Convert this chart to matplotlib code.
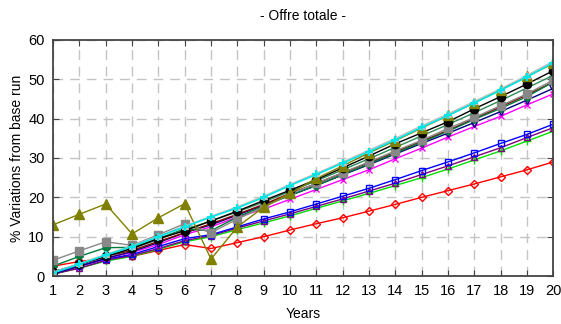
import numpy as np
import matplotlib
matplotlib.use("Agg")
import matplotlib.pyplot as plt

plt.rcParams["font.family"] = ["Liberation Sans", "DejaVu Sans"]

years = list(range(1, 21))

red = [2.5, 3.7, 4.5, 5.0, 6.5, 8.0, 7.0, 8.5, 10.0, 11.7, 13.3, 14.8, 16.5, 18.2, 20.0, 21.7, 23.4, 25.2, 27.0, 29.0]
green = [0.5, 2.0, 3.8, 5.0, 6.8, 8.7, 10.0, 11.8, 13.5, 15.3, 17.2, 19.1, 21.0, 23.0, 25.0, 27.2, 29.5, 31.8, 34.3, 36.8]
purple = [0.5, 2.0, 4.0, 5.2, 7.0, 9.0, 10.3, 12.2, 14.0, 15.8, 17.7, 19.6, 21.6, 23.6, 25.8, 28.0, 30.3, 32.6, 35.2, 37.7]
blue = [0.8, 2.5, 4.3, 5.5, 7.5, 9.5, 10.5, 12.5, 14.5, 16.3, 18.3, 20.3, 22.3, 24.5, 26.8, 29.0, 31.3, 33.7, 36.0, 38.6]
magenta = [0.5, 2.5, 4.5, 6.0, 8.0, 10.5, 12.5, 15.0, 17.0, 19.5, 22.0, 24.5, 27.0, 29.8, 32.5, 35.3, 38.0, 40.6, 43.5, 46.3]
navy = [0.5, 2.5, 4.5, 6.2, 8.5, 11.0, 13.0, 15.5, 18.0, 20.5, 23.0, 25.7, 28.3, 31.0, 33.7, 36.3, 39.0, 41.8, 44.7, 47.7]
darkred = [1.0, 3.0, 5.0, 6.5, 8.8, 11.0, 13.3, 15.7, 18.2, 21.0, 23.5, 26.2, 28.8, 31.5, 34.3, 37.0, 40.0, 43.0, 46.0, 49.3]
dkgreen = [2.5, 5.0, 7.2, 7.3, 9.5, 12.0, 11.5, 15.0, 17.8, 20.5, 23.0, 25.8, 28.5, 31.2, 34.0, 36.8, 39.8, 42.6, 45.6, 49.3]
gray = [4.0, 6.4, 8.7, 7.8, 10.5, 13.3, 11.0, 14.5, 17.5, 20.8, 23.6, 26.3, 29.0, 31.8, 34.5, 37.5, 40.3, 43.3, 46.3, 49.8]
teal = [1.0, 3.0, 5.0, 7.0, 9.3, 11.8, 14.0, 16.3, 18.8, 21.5, 24.2, 27.0, 29.8, 32.7, 35.6, 38.5, 41.5, 44.6, 47.8, 51.0]
black = [1.0, 3.0, 5.0, 7.0, 9.5, 11.5, 14.0, 16.5, 19.2, 21.8, 24.5, 27.5, 30.5, 33.6, 36.4, 39.2, 42.5, 45.6, 48.8, 52.2]
olive = [13.0, 15.7, 18.3, 10.7, 14.8, 18.4, 4.3, 12.5, 17.5, 21.0, 24.8, 28.0, 31.3, 34.4, 37.6, 40.8, 44.0, 47.3, 50.7, 54.0]
cyan = [0.8, 3.0, 5.3, 7.5, 10.0, 12.5, 15.0, 17.3, 20.0, 23.0, 25.8, 28.7, 31.6, 34.6, 37.8, 40.8, 44.0, 47.2, 50.6, 54.2]
silver = [1.0, 3.2, 5.5, 7.7, 10.2, 12.7, 15.2, 17.6, 20.3, 23.3, 26.1, 29.0, 32.0, 35.0, 38.2, 41.2, 44.4, 47.6, 51.0, 54.6]

fig = plt.figure(figsize=(5.61, 3.24), dpi=100)
ax = fig.add_axes([0.0945, 0.148, 0.892, 0.729])

ms = 5
ax.plot(years, red, color="red", marker="D", mfc="none", ms=4, lw=1)
ax.plot(years, green, color="#00dd00", marker="+", ms=6, lw=1)
ax.plot(years, purple, color="#800080", marker="^", mfc="none", ms=ms, lw=1)
ax.plot(years, blue, color="blue", marker="s", mfc="none", ms=ms, lw=1)
ax.plot(years, magenta, color="#ff00ff", marker="x", ms=ms, lw=1)
ax.plot(years, navy, color="#000080", marker="v", mfc="none", ms=ms + 1, lw=1)
ax.plot(years, darkred, color="#8b0000", marker="v", ms=ms, lw=1)
ax.plot(years, dkgreen, color="#007a3d", marker="D", ms=4, lw=1)
ax.plot(years, gray, color="#888888", marker="s", ms=ms + 1, lw=1)
ax.plot(years, teal, color="#2e8b57", marker="none", lw=1)
ax.plot(years, black, color="black", marker="o", ms=ms + 1, lw=1)
ax.plot(years, olive, color="#808000", marker="^", ms=ms + 2, lw=1)
ax.plot(years, silver, color="#c0c0c0", marker="^", ms=ms, lw=1)
ax.plot(years, cyan, color="#00e5e5", marker="+", ms=6, mew=1.5, lw=1.2)

ax.set_xlim(1, 20)
ax.set_ylim(0, 60)
ax.set_xticks(years)
ax.set_yticks(range(0, 61, 10))
ax.grid(True, ls=(0, (7, 5)), color="#c4c4c4", lw=1)
ax.tick_params(direction="in", top=True, right=True, labelsize=10.5, length=4,
               pad=6, color="#444444")
for s in ax.spines.values():
    s.set_color("#444444")
    s.set_linewidth(1.3)

ax.set_title("- Offre totale -", fontsize=10, pad=14)
ax.set_xlabel("Years", fontsize=10, labelpad=6)
ax.set_ylabel("% Variations from base run", fontsize=10, labelpad=3)

fig.savefig("out.png", dpi=100)
